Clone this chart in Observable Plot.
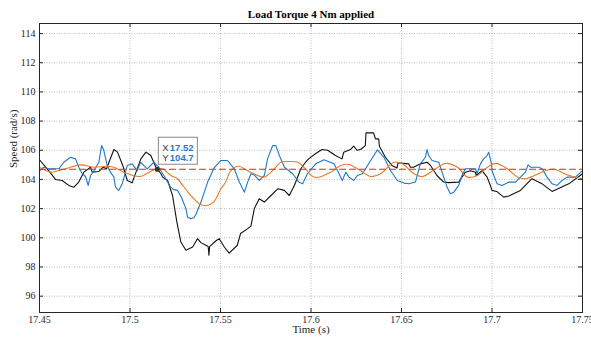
<!DOCTYPE html>
<html><head><meta charset="utf-8">
<script src="https://cdn.jsdelivr.net/npm/d3@7"></script>
<script src="https://cdn.jsdelivr.net/npm/@observablehq/plot@0.6"></script>
<style>html,body{margin:0;padding:0;background:#fff}#chart svg{display:block}</style>
</head><body><div id="chart"></div>
<script>
const titleText = "Load Torque 4 Nm applied";
const xLabel = "Time (s)";
const yLabel = "Speed (rad/s)";
const xTicks = [17.45, 17.5, 17.55, 17.6, 17.65, 17.7, 17.75];
const xTickLabels = ["17.45", "17.5", "17.55", "17.6", "17.65", "17.7", "17.75"];
const yTicks = [96, 98, 100, 102, 104, 106, 108, 110, 112, 114];
const xDomain = [17.45, 17.75];
const yDomain = [94.88, 114.69];

const blackTime = [17.4500,17.4551,17.4588,17.4625,17.4662,17.4690,17.4717,17.4745,17.4782,17.4791,17.4828,17.4852,17.4870,17.4911,17.4931,17.4960,17.4985,17.5012,17.5023,17.5060,17.5088,17.5115,17.5143,17.5171,17.5180,17.5208,17.5235,17.5259,17.5281,17.5309,17.5346,17.5373,17.5392,17.5419,17.5432,17.5436,17.5440,17.5475,17.5493,17.5521,17.5548,17.5593,17.5611,17.5650,17.5668,17.5687,17.5714,17.5742,17.5779,17.5816,17.5853,17.5880,17.5908,17.5944,17.5970,17.5987,17.6024,17.6061,17.6092,17.6135,17.6171,17.6181,17.6218,17.6236,17.6254,17.6274,17.6300,17.6304,17.6346,17.6356,17.6374,17.6378,17.6411,17.6447,17.6475,17.6481,17.6540,17.6549,17.6567,17.6604,17.6641,17.6660,17.6696,17.6733,17.6761,17.6816,17.6834,17.6853,17.6881,17.6909,17.6912,17.6945,17.6973,17.6991,17.7000,17.7026,17.7065,17.7093,17.7157,17.7221,17.7277,17.7332,17.7424,17.7500];
const blackSpeed = [105.35,104.6,104.0,103.93,103.59,103.47,103.82,104.5,104.84,104.5,104.55,104.84,104.73,106.05,105.87,104.96,103.93,103.77,104.16,105.41,105.87,105.64,104.84,104.39,104.16,103.93,102.9,101.08,99.71,99.15,99.37,99.94,99.67,99.49,99.4,98.8,99.4,99.8,99.94,99.37,98.95,99.49,100.3,100.63,100.8,102.0,102.68,102.45,102.9,103.36,103.25,102.9,103.59,104.73,105.18,105.41,105.76,106.05,106.0,105.64,105.41,105.87,106.05,106.28,106.0,106.05,106.32,107.19,107.19,106.78,106.78,106.28,105.52,104.96,104.78,105.14,105.07,104.84,104.84,105.07,105.18,104.96,104.27,103.82,103.78,103.82,104.16,104.5,104.6,104.5,104.27,104.6,104.16,103.59,103.25,103.18,102.79,102.86,103.25,104.05,103.7,103.18,103.7,104.39];

const blueTime = [17.4500,17.4524,17.4551,17.4607,17.4634,17.4671,17.4699,17.4717,17.4736,17.4754,17.4769,17.4782,17.4800,17.4828,17.4843,17.4855,17.4874,17.4892,17.4911,17.4920,17.4938,17.4957,17.4985,17.5012,17.5040,17.5058,17.5095,17.5132,17.5159,17.5187,17.5224,17.5242,17.5263,17.5285,17.5309,17.5318,17.5336,17.5353,17.5364,17.5392,17.5429,17.5465,17.5502,17.5539,17.5576,17.5604,17.5632,17.5650,17.5668,17.5687,17.5714,17.5742,17.5760,17.5788,17.5806,17.5825,17.5853,17.5899,17.5933,17.5954,17.5980,17.6026,17.6072,17.6127,17.6155,17.6173,17.6192,17.6210,17.6237,17.6256,17.6284,17.6330,17.6367,17.6403,17.6440,17.6477,17.6514,17.6540,17.6577,17.6604,17.6632,17.6641,17.6650,17.6669,17.6706,17.6724,17.6752,17.6770,17.6789,17.6816,17.6834,17.6853,17.6909,17.6917,17.6936,17.6954,17.6973,17.6982,17.6997,17.7000,17.7028,17.7056,17.7093,17.7130,17.7157,17.7185,17.7199,17.7213,17.7258,17.7277,17.7304,17.7332,17.7360,17.7387,17.7415,17.7461,17.7500];
const blueSpeed = [104.6,104.84,104.73,104.73,105.18,105.52,105.41,104.84,104.39,104.2,103.59,104.27,104.6,105.18,106.32,106.0,104.96,104.5,104.16,103.47,103.25,103.7,104.96,105.07,104.6,105.18,104.73,105.18,104.84,104.27,103.47,103.3,103.25,102.75,102.0,101.42,101.3,101.38,101.6,102.45,103.82,104.8,105.3,105.3,104.73,103.82,103.13,103.82,104.39,104.3,103.93,104.27,105.41,106.32,106.32,105.64,104.84,104.39,103.82,103.7,104.39,105.07,105.35,105.07,104.39,103.93,104.5,104.16,103.93,104.27,104.39,105.3,106.03,105.52,104.6,103.93,103.75,103.7,103.82,105.07,105.52,106.05,105.64,105.3,105.18,104.5,103.47,103.02,103.13,103.59,104.27,104.73,104.73,104.39,105.07,105.41,105.64,105.87,105.07,104.6,103.7,103.59,103.82,103.82,104.16,104.5,105.0,104.84,104.84,104.73,104.16,103.7,103.59,103.93,104.16,104.16,104.6];

const orangeTime = [17.4500,17.4561,17.4588,17.4644,17.4727,17.4800,17.4874,17.4909,17.4966,17.5053,17.5134,17.5180,17.5226,17.5263,17.5285,17.5329,17.5382,17.5418,17.5462,17.5502,17.5523,17.5558,17.5600,17.5650,17.5705,17.5742,17.5788,17.5834,17.5880,17.5926,17.5972,17.5998,17.6031,17.6109,17.6164,17.6210,17.6274,17.6330,17.6385,17.6459,17.6505,17.6569,17.6616,17.6680,17.6744,17.6809,17.6864,17.6920,17.6975,17.7021,17.7085,17.7141,17.7185,17.7214,17.7296,17.7343,17.7417,17.7500];
const orangeSpeed = [104.84,104.5,104.55,104.73,105.0,104.84,104.9,104.84,104.5,104.2,104.66,104.73,104.27,104.05,103.7,103.0,102.34,102.2,102.45,103.36,103.7,104.6,104.9,104.6,104.27,104.16,104.6,105.18,105.23,105.18,104.7,104.3,104.13,104.5,104.96,105.03,104.6,104.2,104.39,105.18,105.07,104.39,104.2,104.66,105.1,104.84,104.16,104.27,104.84,105.1,104.73,104.16,104.05,104.16,104.6,104.7,104.3,104.05];

const refTime = [17.45, 17.75];
const refSpeed = [104.7, 104.7];

const tipTime = 17.5151, tipSpeed = 104.7;
const tipXLabel = "17.52", tipYLabel = "104.7";

const rows = (ts, vs) => ts.map((t, i) => ({t, v: vs[i]}));
const blackRows = rows(blackTime, blackSpeed);
const blueRows = rows(blueTime, blueSpeed);
const orangeRows = rows(orangeTime, orangeSpeed);
const refRows = rows(refTime, refSpeed);
const tipRows = [{t: tipTime, v: tipSpeed}];

const W = 591, H = 341, mL = 39, mR = 9, mT = 23, mB = 29;
const iw = W - mL - mR, ih = H - mT - mB;
const axisCol = "#262626";
const serif = "Liberation Serif, Times New Roman, serif";
const sans = "Liberation Sans, Arial, sans-serif";

function tipBox(index, scales) {
  const cx = scales.x(tipTime), cy = scales.y(tipSpeed);
  const g = d3.create("svg:g");
  g.append("rect").attr("x", cx + 1.5).attr("y", cy - 31.5).attr("width", 39).attr("height", 27)
    .attr("fill", "#ffffff").attr("fill-opacity", 0.92).attr("stroke", "#8a8a8a").attr("stroke-width", 1);
  return g.node();
}

const chart = Plot.plot({
  width: W, height: H,
  marginLeft: mL, marginRight: mR, marginTop: mT, marginBottom: mB,
  style: {fontFamily: serif, fontSize: "10px", background: "#fff", color: axisCol, overflow: "visible"},
  x: {domain: xDomain, axis: null},
  y: {domain: yDomain, axis: null},
  marks: [
    Plot.gridY(yTicks, {stroke: "#a8a8a8", strokeOpacity: 0.75, strokeDasharray: "1,1.5"}),
    Plot.gridX(xTicks, {stroke: "#a8a8a8", strokeOpacity: 0.75, strokeDasharray: "1,1.5"}),
    Plot.line(blackRows, {x: "t", y: "v", stroke: "#111111", strokeWidth: 1.1}),
    Plot.line(blueRows, {x: "t", y: "v", stroke: "#1f78c8", strokeWidth: 1.1}),
    Plot.line(orangeRows, {x: "t", y: "v", stroke: "#e8782c", strokeWidth: 1.1, curve: "catmull-rom"}),
    Plot.line(refRows, {x: "t", y: "v", stroke: "#ff1a1a", strokeWidth: 1.2, strokeDasharray: "6,4"}),
    Plot.frame({stroke: axisCol, strokeWidth: 1}),
    Plot.tickY(yTicks, {y: d => d, stroke: axisCol, insetRight: iw - 4}),
    Plot.tickY(yTicks, {y: d => d, stroke: axisCol, insetLeft: iw - 4}),
    Plot.tickX(xTicks, {x: d => d, stroke: axisCol, insetBottom: ih - 4}),
    Plot.tickX(xTicks, {x: d => d, stroke: axisCol, insetTop: ih - 4}),
    Plot.axisY(yTicks, {anchor: "left", tickSize: 0, tickPadding: 4, label: null, fontSize: 10, fontFamily: serif, fill: axisCol}),
    Plot.axisX(xTicks, {anchor: "bottom", tickSize: 0, tickPadding: 3.5, label: null, fontSize: 10, fontFamily: serif, fill: axisCol,
      tickFormat: d => xTickLabels[xTicks.indexOf(d)]}),
    Plot.text([titleText], {text: d => d, frameAnchor: "top", dy: -6, lineAnchor: "bottom", fontWeight: "bold", fontSize: 11, fontFamily: serif, fill: "#000"}),
    Plot.text([xLabel], {text: d => d, frameAnchor: "bottom", dy: 20.5, lineAnchor: "bottom", fontSize: 11, fontFamily: serif, fill: axisCol}),
    Plot.text([yLabel], {text: d => d, frameAnchor: "left", dx: -26.5, rotate: -90, lineAnchor: "middle", fontSize: 11, fontFamily: serif, fill: axisCol}),
    tipBox,
    Plot.dot(tipRows, {x: "t", y: "v", r: 1.8, fill: "#333", stroke: "#333"}),
    Plot.text(tipRows, {x: "t", y: "v", text: () => "X", dx: 5, dy: -18, textAnchor: "start", lineAnchor: "bottom", fontFamily: sans, fontSize: 9.5, fill: "#333"}),
    Plot.text(tipRows, {x: "t", y: "v", text: () => tipXLabel, dx: 12.5, dy: -18, textAnchor: "start", lineAnchor: "bottom", fontFamily: sans, fontSize: 9.5, fontWeight: "bold", fill: "#1f78c8"}),
    Plot.text(tipRows, {x: "t", y: "v", text: () => "Y", dx: 5, dy: -8.3, textAnchor: "start", lineAnchor: "bottom", fontFamily: sans, fontSize: 9.5, fill: "#333"}),
    Plot.text(tipRows, {x: "t", y: "v", text: () => tipYLabel, dx: 12.5, dy: -8.3, textAnchor: "start", lineAnchor: "bottom", fontFamily: sans, fontSize: 9.5, fontWeight: "bold", fill: "#1f78c8"})
  ]
});
document.getElementById("chart").appendChild(chart);
</script>
</body></html>
